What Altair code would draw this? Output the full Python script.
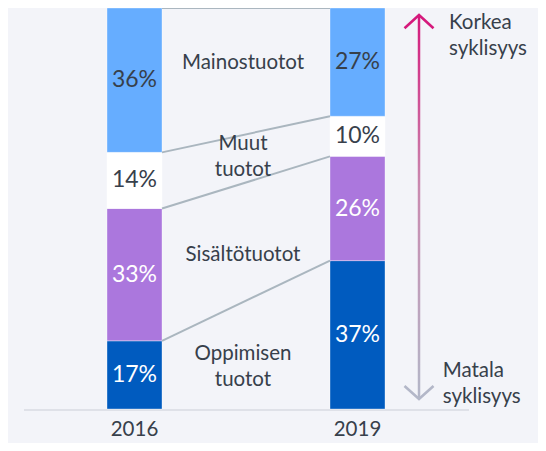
import altair as alt
import pandas as pd

# ---------------- data ----------------
years = ["2016", "2019"]
categories = ["Oppimisen tuotot", "Sisältötuotot", "Muut tuotot", "Mainostuotot"]  # bottom -> top
share_2016 = [17, 33, 14, 36]
share_2019 = [37, 26, 10, 27]
colors = ["#005bbf", "#ab77dd", "#ffffff", "#66adff"]
value_text_colors = ["#ffffff", "#ffffff", "#37404b", "#37404b"]
category_lines = [["Oppimisen", "tuotot"], ["Sisältötuotot"], ["Muut", "tuotot"], ["Mainostuotot"]]
category_label_y = [13.7, 38.3, 66.0, 86.2]
arrow_texts = [["Korkea", "syklisyys"], ["Matala", "syklisyys"]]
arrow_text_y = [96.2, 9.4]

# ---------------- layout constants ----------------
W, H = 530, 435
BAR_HALF = 0.1233
LABEL_X = 0.4865
ARROW_X = 1.2758
YEAR_Y = -5.3
TEXT_DARK = "#37404b"
BG = "#f3f4f9"

xs = alt.Scale(domain=[-0.5673, 1.8094], range=[0, W], nice=False, zero=False)
ys = alt.Scale(domain=[0, 100], range=[401, 0], nice=False, zero=False)

# ---------------- build tables ----------------
seg_rows = []
bound_rows = {0: [], 1: []}
for yi, shares in enumerate([share_2016, share_2019]):
    cum = 0
    for ci, cat in enumerate(categories):
        v = shares[ci]
        seg_rows.append(dict(
            year=years[yi], cat=cat, x0=yi - BAR_HALF, x1=yi + BAR_HALF, xc=yi,
            y0=cum, y1=cum + v, ym=cum + v / 2, label=f"{v}%",
            tcol=value_text_colors[ci],
        ))
        cum += v
        bound_rows[yi].append(cum)
seg = pd.DataFrame(seg_rows)

conn = pd.DataFrame(dict(
    x=[0 + BAR_HALF] * 4, x2=[1 - BAR_HALF] * 4,
    y=bound_rows[0], y2=bound_rows[1],
))

cat_lbl = pd.DataFrame(dict(x=[LABEL_X] * 4, y=category_label_y, t=category_lines))
year_df = pd.DataFrame(dict(x=[0, 1], y=[YEAR_Y, YEAR_Y], t=years))
base_df = pd.DataFrame(dict(x=[-0.4955], x2=[1.5], y=[-0.25]))

arrow_line = pd.DataFrame(dict(x=[ARROW_X - 0.0056], x2=[ARROW_X + 0.0056], y=[2.6], y2=[98.2]))
arrow_up = pd.DataFrame(dict(x=[ARROW_X], y=[96.6]))
arrow_dn = pd.DataFrame(dict(x=[ARROW_X], y=[4.1]))
arrow_lbl = pd.DataFrame(dict(x=[1.4103, 1.3821], y=arrow_text_y, t=arrow_texts))

FONT = "Lato"

bars = alt.Chart(seg).mark_rect(stroke="#ffffff", strokeOpacity=0.35, strokeWidth=1).encode(
    x=alt.X("x0:Q", scale=xs, axis=None), x2="x1:Q",
    y=alt.Y("y0:Q", scale=ys, axis=None), y2="y1:Q",
    color=alt.Color("cat:N", scale=alt.Scale(domain=categories, range=colors), legend=None),
)

values = alt.Chart(seg).mark_text(font=FONT, fontSize=23, baseline="middle", align="center").encode(
    x=alt.X("xc:Q", scale=xs, axis=None),
    y=alt.Y("ym:Q", scale=ys, axis=None),
    text="label:N",
    color=alt.Color("tcol:N", scale=None),
)

connectors = alt.Chart(conn).mark_rule(color="#aab6bf", strokeWidth=2).encode(
    x=alt.X("x:Q", scale=xs, axis=None), x2="x2:Q",
    y=alt.Y("y:Q", scale=ys, axis=None), y2="y2:Q",
)

cat_text = alt.Chart(cat_lbl).mark_text(font=FONT, fontSize=20.5, lineHeight=25.5, baseline="middle",
                                        align="center", color=TEXT_DARK).encode(
    x=alt.X("x:Q", scale=xs, axis=None),
    y=alt.Y("y:Q", scale=ys, axis=None),
    text="t",
)

baseline = alt.Chart(base_df).mark_rule(color="#dfe1e8", strokeWidth=2).encode(
    x=alt.X("x:Q", scale=xs, axis=None), x2="x2:Q",
    y=alt.Y("y:Q", scale=ys, axis=None),
)

year_text = alt.Chart(year_df).mark_text(font=FONT, fontSize=20.5, baseline="middle", align="center",
                                         color=TEXT_DARK).encode(
    x=alt.X("x:Q", scale=xs, axis=None),
    y=alt.Y("y:Q", scale=ys, axis=None),
    text="t:N",
)

grad = alt.Gradient(
    gradient="linear",
    stops=[
        alt.GradientStop(color="#d5197c", offset=0),
        alt.GradientStop(color="#c98ab0", offset=0.45),
        alt.GradientStop(color="#b3b7c8", offset=1),
    ],
    x1=0, x2=0, y1=0, y2=1,
)
arrow_body = alt.Chart(arrow_line).mark_rect(fill=grad).encode(
    x=alt.X("x:Q", scale=xs, axis=None), x2="x2:Q",
    y=alt.Y("y:Q", scale=ys, axis=None), y2="y2:Q",
)
head_up = alt.Chart(arrow_up).mark_point(shape="M-1,0.45L0,-0.45L1,0.45", filled=False, size=841,
                                         strokeWidth=2.6, color="#d5197c", opacity=1).encode(
    x=alt.X("x:Q", scale=xs, axis=None),
    y=alt.Y("y:Q", scale=ys, axis=None),
)
head_dn = alt.Chart(arrow_dn).mark_point(shape="M-1,-0.45L0,0.45L1,-0.45", filled=False, size=841,
                                         strokeWidth=2.6, color="#b3b7c8", opacity=1).encode(
    x=alt.X("x:Q", scale=xs, axis=None),
    y=alt.Y("y:Q", scale=ys, axis=None),
)
arrow_text = alt.Chart(arrow_lbl).mark_text(font=FONT, fontSize=20.5, lineHeight=26, baseline="middle",
                                            align="left", color=TEXT_DARK).encode(
    x=alt.X("x:Q", scale=xs, axis=None),
    y=alt.Y("y:Q", scale=ys, axis=None),
    text="t",
)

chart = alt.layer(
    baseline, bars, connectors, values, cat_text, year_text,
    arrow_body, head_up, head_dn, arrow_text,
).properties(
    width=W, height=H, padding=0, background=BG,
    autosize=alt.AutoSizeParams(type="none"),
).configure_view(stroke=None)

chart.save("out.html", embed_options={"renderer": "svg", "actions": False})
